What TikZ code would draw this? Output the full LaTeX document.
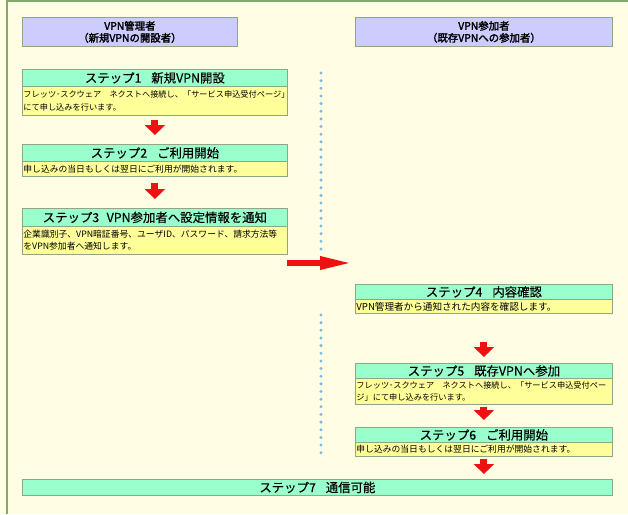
\documentclass[tikz,border=0pt]{standalone}
\usepackage{fontspec}
\setmainfont{Noto Sans CJK JP}
\newfontfamily\hdrfont[FakeBold=2.2]{Noto Sans CJK JP}
\newfontfamily\ttlfont[FakeBold=0.3]{Noto Sans CJK JP}
\usetikzlibrary{arrows.meta}
\definecolor{bg}{HTML}{FFFDE3}
\definecolor{frame}{HTML}{7FAA6E}
\definecolor{edge}{HTML}{8DA882}
\definecolor{hdr}{HTML}{CCCCFF}
\definecolor{mint}{HTML}{99FFCC}
\definecolor{pale}{HTML}{FFFF99}
\definecolor{dotc}{HTML}{7DB9E0}
\definecolor{arr}{HTML}{EE1111}
\tikzset{
  hdrbox/.style={draw=edge, fill=hdr, line width=0.8pt, anchor=north west, inner sep=0pt,
    align=center, minimum height=29pt, font=\hdrfont\fontsize{10.4}{12}\selectfont},
  titlebox/.style={draw=edge, fill=mint, line width=0.8pt, anchor=north west, inner sep=0pt,
    font=\ttlfont\fontsize{12.4}{13}\selectfont},
  descbox/.style={draw=edge, fill=pale, line width=0.8pt, anchor=north west, inner xsep=1pt, inner ysep=0pt,
    align=left, font=\fontsize{8.8}{12.5}\selectfont},
  kanadesc/.style={font=\fontsize{8.2}{12.5}\selectfont},
  widedesc/.style={font=\fontsize{9.6}{12.5}\selectfont},
  downarr/.style={draw=arr, line width=7pt, -{Triangle[width=20pt,length=10pt]}},
  rightarr/.style={draw=arr, line width=6pt, -{Triangle[width=12pt,length=33pt]}},
  dotline/.style={draw=dotc, line width=3.3pt, line cap=round, dash pattern=on 0pt off 7.65pt}
}
\begin{document}
\begin{tikzpicture}[x=1pt,y=-1pt]
\useasboundingbox (0,0) rectangle (628,514);
\fill[bg] (0,0) rectangle (628,514);
\draw[frame, line width=2pt] (7,514) -- (7,1) -- (628,1);

% headers
\node[hdrbox, minimum width=215pt] (h1) at (22,17) {VPN管理者\\（新規VPNの開設者）};
\node[hdrbox, minimum width=257pt] (h2) at (355,17) {VPN参加者\\（既存VPNへの参加者）};

% dotted separator
\coordinate (d1) at (321,73);
\coordinate (d2) at (321,252);
\coordinate (d3) at (321,315);
\coordinate (d4) at (321,454);
\draw[dotline] (d1) -- (d2);
\draw[dotline] (d3) -- (d4);

% left column
\node[titlebox, minimum width=265pt, minimum height=17pt] (s1t) at (22,69) {ステップ1\hspace{0.8em}新規VPN開設};
\node[descbox, kanadesc, text width=263pt, minimum height=29pt] (s1d) at (22,86) {フレッツ･スクウェア　ネクストへ接続し、「サービス申込受付ページ」\\にて申し込みを行います。};

\node[titlebox, minimum width=265pt, minimum height=17pt] (s2t) at (22,144) {ステップ2\hspace{0.8em}ご利用開始};
\node[descbox, text width=263pt, minimum height=15pt] (s2d) at (22,161) {申し込みの当日もしくは翌日にご利用が開始されます。};

\node[titlebox, minimum width=265pt, minimum height=18pt] (s3t) at (22,208) {ステップ3\hspace{0.6em}VPN参加者へ設定情報を通知};
\node[descbox, text width=263pt, minimum height=28pt] (s3d) at (22,226) {企業識別子、VPN暗証番号、ユーザID、パスワード、請求方法等\\をVPN参加者へ通知します。};

% right column
\node[titlebox, minimum width=257pt, minimum height=15pt] (s4t) at (355,284) {ステップ4\hspace{0.8em}内容確認};
\node[descbox, widedesc, text width=255pt, minimum height=14pt] (s4d) at (355,299) {VPN管理者から通知された内容を確認します。};

\node[titlebox, minimum width=257pt, minimum height=15pt] (s5t) at (355,363) {ステップ5\hspace{0.8em}既存VPNへ参加};
\node[descbox, kanadesc, text width=255pt, minimum height=26pt] (s5d) at (355,378) {フレッツ･スクウェア　ネクストへ接続し、「サービス申込受付ペー\\ジ」にて申し込みを行います。};

\node[titlebox, minimum width=257pt, minimum height=15pt] (s6t) at (355,427) {ステップ6\hspace{0.8em}ご利用開始};
\node[descbox, text width=255pt, minimum height=14pt] (s6d) at (355,442) {申し込みの当日もしくは翌日にご利用が開始されます。};

% step 7
\node[titlebox, minimum width=590pt, minimum height=16pt] (s7t) at (22,479) {ステップ7\hspace{0.8em}通信可能};

% arrows
\draw[downarr, shorten <=4pt, shorten >=9pt] (s1d.south) -- (s2t.north);
\draw[downarr, shorten <=6pt, shorten >=9pt] (s2d.south) -- (s3t.north);
\draw[downarr, shorten <=28pt, shorten >=6pt] (s4d.south) -- (s5t.north);
\draw[downarr, shorten <=2pt, shorten >=7pt] (s5d.south) -- (s6t.north);
\draw[downarr, shorten <=2pt, shorten >=5pt] (s6d.south) -- (s6d.south |- s7t.north);

\coordinate (ra) at (287,263);
\coordinate (rb) at (355,263);
\draw[rightarr, shorten >=2pt] (ra) -- (rb);
\end{tikzpicture}
\end{document}
